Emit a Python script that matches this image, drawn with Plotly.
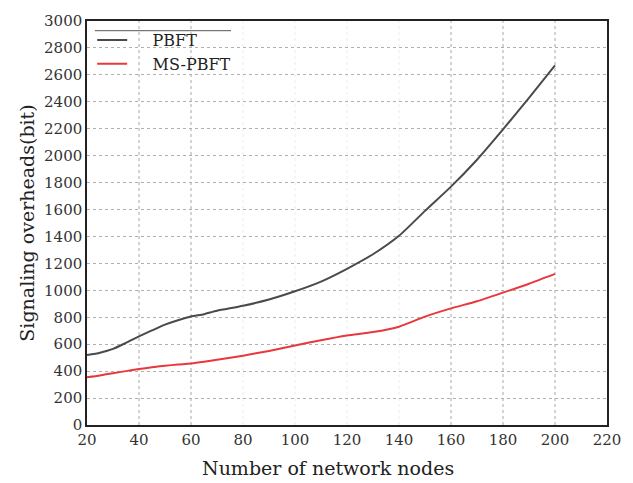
import plotly.graph_objects as go

nodes = [20, 25, 30, 35, 40, 45, 50, 55, 60, 65, 70, 80, 90, 100, 110, 120, 130, 140, 150, 160, 170, 180, 190, 200]
pbft = [519, 537, 565, 610, 658, 702, 745, 778, 805, 823, 848, 885, 932, 993, 1065, 1160, 1268, 1405, 1590, 1770, 1970, 2195, 2430, 2670]
ms_pbft = [355, 368, 385, 400, 415, 428, 440, 449, 457, 470, 485, 515, 550, 590, 630, 665, 690, 730, 805, 866, 919, 983, 1049, 1122]

x_ticks = [20, 40, 60, 80, 100, 120, 140, 160, 180, 200, 220]
y_ticks = list(range(0, 3001, 200))
faint_x = [80, 100, 120, 140]

serif = "DejaVu Serif"

fig = go.Figure()
fig.add_trace(go.Scatter(x=nodes, y=pbft, mode="lines", name="\u00a0\u00a0\u00a0\u00a0PBFT",
                         line=dict(color="#4a4a4a", width=2, shape="spline", smoothing=0.6)))
fig.add_trace(go.Scatter(x=nodes, y=ms_pbft, mode="lines", name="\u00a0\u00a0\u00a0\u00a0MS-PBFT",
                         line=dict(color="#e8383d", width=2, shape="spline", smoothing=0.6)))

shapes = []
for xv in x_ticks[1:-1]:
    shapes.append(dict(type="line", xref="x", yref="paper", x0=xv, x1=xv, y0=0, y1=1,
                       line=dict(color="#ececec" if xv in faint_x else "#a8a8a8", width=1, dash="dot"),
                       layer="below"))
# legend top rule
shapes.append(dict(type="line", xref="paper", yref="paper", x0=0.015, x1=0.277, y0=0.976, y1=0.976,
                   line=dict(color="#555555", width=1)))

fig.update_layout(
    width=633, height=483,
    margin=dict(l=87, r=22, t=15, b=58),
    paper_bgcolor="white", plot_bgcolor="white",
    shapes=shapes,
    showlegend=True,
    legend=dict(x=0.01, y=0.995, xanchor="left", yanchor="top",
                font=dict(family=serif, size=16, color="#222222"),
                bgcolor="rgba(0,0,0,0)", tracegroupgap=0),
    annotations=[dict(text="Number of network nodes", xref="paper", yref="paper",
                      x=0.464, y=-0.074, xanchor="center", yanchor="top", showarrow=False,
                      font=dict(family=serif, size=19, color="#222222"))],
    xaxis=dict(range=[20, 220], tickvals=x_ticks, showgrid=False,
               showline=True, linecolor="#222222", linewidth=1.5, mirror=True,
               ticks="", tickfont=dict(family=serif, size=15, color="#333333"),
               zeroline=False),
    yaxis=dict(range=[0, 3000], tickvals=y_ticks, showgrid=True, gridcolor="#b0b0b0",
               griddash="dot", gridwidth=1,
               showline=True, linecolor="#222222", linewidth=1.5, mirror=True,
               ticks="", tickfont=dict(family=serif, size=15, color="#333333"),
               title=dict(text="Signaling overheads(bit)", font=dict(family=serif, size=19, color="#222222"),
                          standoff=4),
               zeroline=False),
)

fig.write_html("out.html")
